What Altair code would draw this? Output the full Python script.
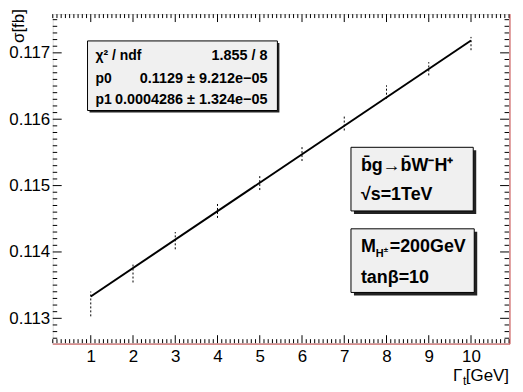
import altair as alt
import pandas as pd

# ---- data ----
gamma_t = [1, 2, 3, 4, 5, 6, 7, 8, 9, 10]
sigma = [0.113217, 0.11369, 0.11417, 0.11463, 0.11505, 0.11549, 0.11594, 0.11641, 0.11676, 0.11714]
sigma_err = [0.000187, 0.00015, 0.00013, 0.000117, 0.000117, 0.00012, 0.00011, 0.0001, 0.0001, 0.0001]
fit_x = [1, 10]
fit_y = [0.113329, 0.117186]

x_labels = [1, 2, 3, 4, 5, 6, 7, 8, 9, 10]
y_labels = [0.113, 0.114, 0.115, 0.116, 0.117]
x_minor = [round(0.1 * i, 1) for i in range(1, 110)]
y_minor = [round(0.1127 + 0.0001 * i, 4) for i in range(0, 49)]

stat_names = ["χ² / ndf", "p0", "p1"]
stat_values = ["1.855 / 8", "0.1129 ± 9.212e−05", "0.0004286 ± 1.324e−05"]

W, H = 459, 331
XDOM = [0.1, 10.9]
YDOM = [0.112626, 0.117584]
FONT = "Liberation Sans"

xscale = alt.Scale(domain=XDOM, nice=False, zero=False)
yscale = alt.Scale(domain=YDOM, nice=False, zero=False)

xaxis = alt.Axis(values=x_labels, ticks=False, domain=False, grid=False, labelFontSize=17,
                 labelFont=FONT, labelColor="black", labelPadding=5, title=None, labelFlush=False,
                 labelFontWeight="normal")
yaxis = alt.Axis(values=y_labels, format=".3f", ticks=False, domain=False, grid=False,
                 labelFontSize=17, labelFont=FONT, labelColor="black", labelPadding=3,
                 title=None, labelFlush=False)

def X(field="x"):
    return alt.X(f"{field}:Q", scale=xscale, axis=xaxis)

def Y(field="y"):
    return alt.Y(f"{field}:Q", scale=yscale, axis=yaxis)

df = pd.DataFrame({"x": gamma_t, "s": sigma, "e": sigma_err})
df["lo"] = df["s"] - df["e"]
df["hi"] = df["s"] + df["e"]

bars = alt.Chart(df).mark_rule(color="black", strokeWidth=1, strokeDash=[2, 2]).encode(
    x=X(), y=Y("lo"), y2="hi:Q",
)

fit = alt.Chart(pd.DataFrame({"x": fit_x, "y": fit_y})).mark_line(color="black", strokeWidth=2).encode(
    x=X(), y=Y(),
)

def xticks(vals, length):
    d = pd.DataFrame({"x": vals})
    b = alt.Chart(d).mark_rule(color="black", strokeWidth=1).encode(
        x=X(), y=alt.value(H), y2=alt.value(H - length))
    t = alt.Chart(d).mark_rule(color="black", strokeWidth=1).encode(
        x=X(), y=alt.value(0), y2=alt.value(length))
    return [b, t]

def yticks(vals, length):
    d = pd.DataFrame({"y": vals})
    l = alt.Chart(d).mark_rule(color="black", strokeWidth=1).encode(
        y=Y(), x=alt.value(0), x2=alt.value(length))
    r = alt.Chart(d).mark_rule(color="black", strokeWidth=1).encode(
        y=Y(), x=alt.value(W), x2=alt.value(W - length))
    return [l, r]

one = pd.DataFrame({"a": [0]})

def txt(s, x, y, size=17, weight="normal", align="left", baseline="alphabetic", angle=0):
    kw = dict(fontSize=size, font=FONT, fontWeight=weight, align=align, baseline=baseline, color="black")
    if angle:
        kw["angle"] = angle
    return alt.Chart(one).mark_text(**kw).encode(x=alt.value(x), y=alt.value(y), text=alt.value(s))

def box(x1, y1, x2, y2, sh=3):
    shadow = alt.Chart(one).mark_rect(color="#222222").encode(
        x=alt.value(x1 + sh), x2=alt.value(x2 + sh), y=alt.value(y1 + sh), y2=alt.value(y2 + sh))
    body = alt.Chart(one).mark_rect(fill="#f0f0f0", stroke="black", strokeWidth=1).encode(
        x=alt.value(x1), x2=alt.value(x2), y=alt.value(y1), y2=alt.value(y2))
    return [shadow, body]

layers = [bars, fit]
layers += xticks(x_labels, 8) + xticks([v for v in x_minor if abs(v - round(v)) > 1e-6], 4)
layers += yticks(y_labels, 9) + yticks([v for v in y_minor if round(v, 3) != v], 4.5)

# red frame edge (bottom, right)
layers.append(alt.Chart(one).mark_rule(color="#b00000", strokeWidth=1, opacity=0.7).encode(
    x=alt.value(0), x2=alt.value(W + 1), y=alt.value(H + 1)))
layers.append(alt.Chart(one).mark_rule(color="#b00000", strokeWidth=1, opacity=0.7).encode(
    x=alt.value(W + 1), y=alt.value(0), y2=alt.value(H + 1)))

# stat box
layers += box(35, 27, 226, 97, sh=2)
rows_y = [46, 69, 90]
for n, v, yy in zip(stat_names, stat_values, rows_y):
    layers.append(txt(n, 43, yy, size=14, weight="bold"))
    layers.append(txt(v, 216, yy, size=14.5, weight="bold", align="right"))

# process box
layers += box(300, 134, 423, 198)
layers.append(txt("b̄g→b̄W⁻H⁺", 310, 158, size=18, weight="bold"))
layers.append(txt("√s=1TeV", 310, 187, size=18, weight="bold"))

# parameter box
layers += box(300, 216, 424, 280)
layers.append(txt("M", 310, 239, size=18, weight="bold"))
layers.append(txt("H", 325, 244, size=11, weight="bold"))
layers.append(txt("±", 333, 239, size=8, weight="bold"))
layers.append(txt("=200GeV", 339, 239, size=18, weight="bold"))
layers.append(txt("tanβ=10", 310, 271, size=18, weight="bold"))

# axis titles
layers.append(txt("σ[fb]", -34, -5, size=17, align="right", baseline="middle", angle=270))
layers.append(txt("[GeV]", W, 369, size=17, align="right"))
layers.append(txt("t", 416, 373, size=12, align="right"))
layers.append(txt("Γ", 412, 369, size=17, align="right"))

chart = alt.layer(*layers).properties(
    width=W, height=H,
    padding={"left": 45, "top": 5, "right": 6, "bottom": 45},
    autosize=alt.AutoSizeParams(type="none"),
).configure_view(stroke="black", strokeWidth=1).configure(background="white")

chart.save("out.html", embed_options={"renderer": "svg", "actions": False})
